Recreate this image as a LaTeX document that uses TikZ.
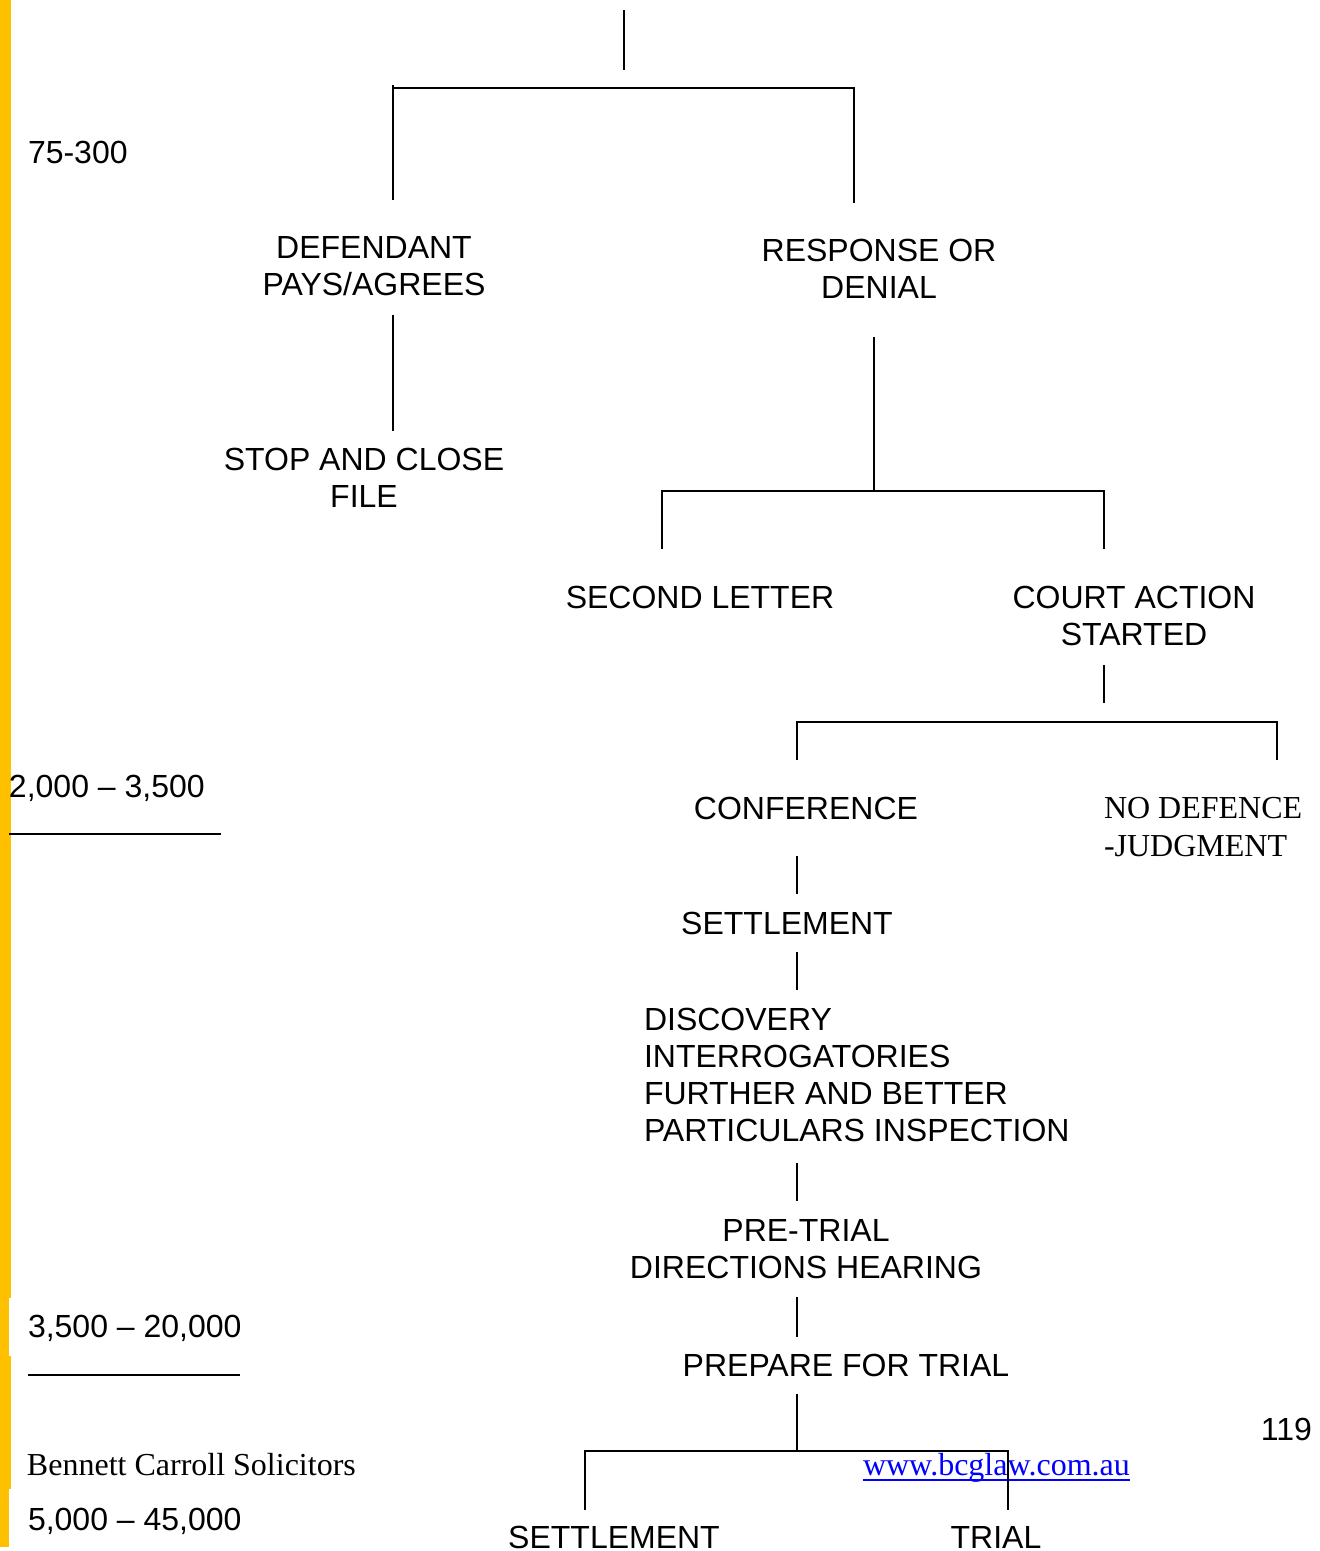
\documentclass[tikz,border=0pt]{standalone}
\usepackage{fontspec}
\setmainfont{Liberation Sans}
\newfontfamily\seriffont{Liberation Serif}
\definecolor{baryellow}{HTML}{FFC000}
\definecolor{linkblue}{HTML}{0000FF}
\tikzset{
  lbl/.style={inner sep=0pt, outer sep=0pt, font=\fontsize{32}{37}\selectfont, align=center},
  lbll/.style={inner sep=0pt, outer sep=0pt, font=\fontsize{32}{37}\selectfont, align=left},
  serif/.style={inner sep=0pt, outer sep=0pt, font=\fontsize{32}{38}\seriffont\selectfont, align=left},
  conn/.style={line width=2pt, black},
  rule/.style={line width=2pt, black}
}
\begin{document}
\begin{tikzpicture}[x=1pt,y=-1pt]
\useasboundingbox (0,0) rectangle (1320,1551);
\fill[white] (0,0) rectangle (1320,1551);
% yellow side bar
\fill[baryellow] (0,0) rectangle (11,1547);
\fill[white] (9,1298) rectangle (11.5,1356);
\fill[white] (9,1489) rectangle (11.5,1551);

% cost labels
\node[lbll, anchor=base west] (c75) at (28,163) {75-300};
\node[lbll, anchor=base west] (c2000) at (9,797) {2,000 – 3,500};
\node[lbll, anchor=base west] (c3500) at (28,1337) {3,500 – 20,000};
\node[lbll, anchor=base west] (c5000) at (28,1530) {5,000 – 45,000};
\coordinate (u1a) at (9,834);  \coordinate (u1b) at (221,834);
\coordinate (u2a) at (28,1375); \coordinate (u2b) at (240,1375);
\draw[rule] (u1a) -- (u1b);
\draw[rule] (u2a) -- (u2b);

% tree text nodes
\node[lbl, anchor=north] (defendant) at (374,236) {DEFENDANT\\PAYS/AGREES};
\node[lbl, anchor=north] (response) at (879,239) {RESPONSE OR\\DENIAL};
\node[lbl, anchor=north] (stopclose) at (364,448) {STOP AND CLOSE\\FILE};
\node[lbl, anchor=base] (second) at (700,608) {SECOND LETTER};
\node[lbl, anchor=north] (court) at (1134,586) {COURT ACTION\\STARTED};
\node[lbl, anchor=base] (conference) at (806,819) {CONFERENCE};
\node[serif, anchor=north west] (nodefence) at (1104,797) {NO DEFENCE\\-JUDGMENT};
\node[lbl, anchor=base] (settle1) at (787,934) {SETTLEMENT};
\node[lbll, anchor=north west] (discovery) at (644,1008) {DISCOVERY\\INTERROGATORIES\\FURTHER AND BETTER\\PARTICULARS INSPECTION};
\node[lbl, anchor=north] (pretrial) at (806,1219) {PRE-TRIAL\\DIRECTIONS HEARING};
\node[lbl, anchor=base] (prepare) at (846,1376) {PREPARE FOR TRIAL};
\node[lbl, anchor=base] (settle2) at (614,1548) {SETTLEMENT};
\node[lbl, anchor=base] (trial) at (996,1548) {TRIAL};

% footer
\node[lbl, anchor=base east] (pageno) at (1312,1440) {119};
\node[serif, anchor=base west] (firm) at (27,1475) {Bennett Carroll Solicitors};
\node[serif, anchor=base west, text=linkblue] (www) at (863,1475) {www.bcglaw.com.au};
\draw[linkblue, line width=2pt] ([yshift=-5pt]www.base west) -- ([yshift=-5pt]www.base east);

% connector coordinates
\coordinate (t0) at (624,10);   \coordinate (t1) at (624,70);
\coordinate (s1l) at (393,88);  \coordinate (s1r) at (854,88);
\coordinate (s1ld) at (393,200); \coordinate (s1rd) at (854,203);
\coordinate (s1lt) at (393,85);
\coordinate (d0) at (393,315);  \coordinate (d1) at (393,431);
\coordinate (r0) at (874,337);  \coordinate (r1) at (874,491);
\coordinate (s2l) at (662,491); \coordinate (s2r) at (1104,491);
\coordinate (s2ld) at (662,549); \coordinate (s2rd) at (1104,549);
\coordinate (c0) at (1104,665); \coordinate (c1) at (1104,703);
\coordinate (s3l) at (797,722); \coordinate (s3r) at (1277,722);
\coordinate (s3ld) at (797,760); \coordinate (s3rd) at (1277,760);
\coordinate (v1a) at (797,856); \coordinate (v1b) at (797,894);
\coordinate (v2a) at (797,952); \coordinate (v2b) at (797,990);
\coordinate (v3a) at (797,1163); \coordinate (v3b) at (797,1201);
\coordinate (v4a) at (797,1297); \coordinate (v4b) at (797,1337);
\coordinate (v5a) at (797,1394); \coordinate (s4m) at (797,1451);
\coordinate (s4l) at (585,1451); \coordinate (s4r) at (1008,1451);
\coordinate (s4ld) at (585,1510); \coordinate (s4rd) at (1008,1510);

% connectors
\draw[conn] (t0) -- (t1);
\draw[conn] (s1ld) -- (s1lt) -- (s1l) -- (s1r) -- (s1rd);
\draw[conn] (d0) -- (d1);
\draw[conn] (r0) -- (r1);
\draw[conn] (s2ld) -- (s2l) -- (s2r) -- (s2rd);
\draw[conn] (c0) -- (c1);
\draw[conn] (s3ld) -- (s3l) -- (s3r) -- (s3rd);
\draw[conn] (v1a) -- (v1b);
\draw[conn] (v2a) -- (v2b);
\draw[conn] (v3a) -- (v3b);
\draw[conn] (v4a) -- (v4b);
\draw[conn] (v5a) -- (s4m);
\draw[conn] (s4ld) -- (s4l) -- (s4r) -- (s4rd);
\end{tikzpicture}
\end{document}
